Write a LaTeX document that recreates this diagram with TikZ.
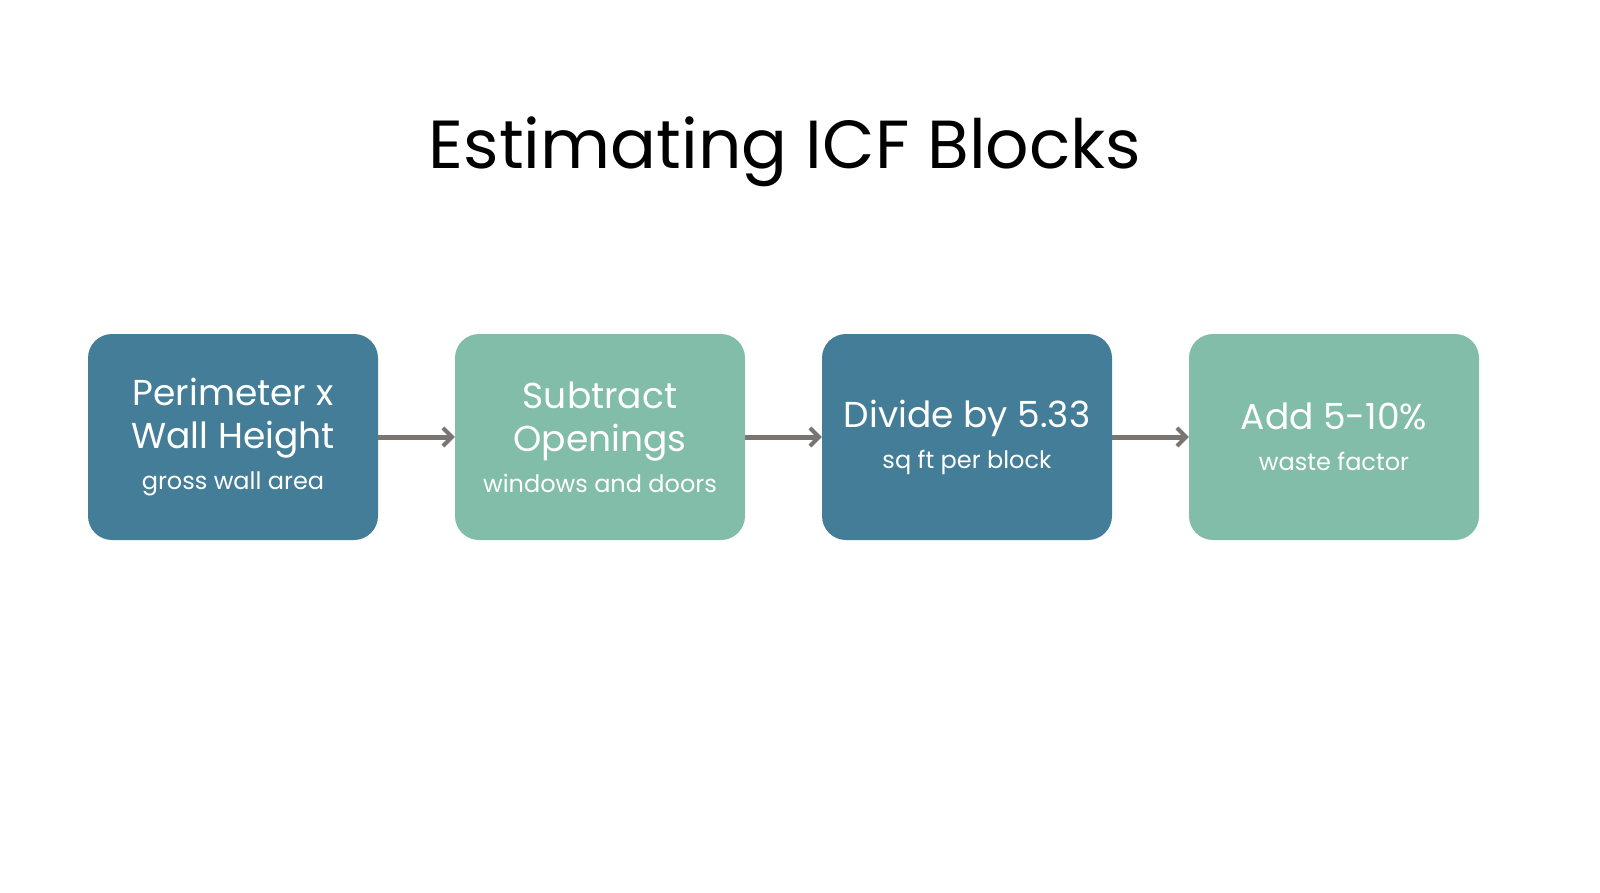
\documentclass[tikz,border=0pt]{standalone}
\usepackage{fontspec}
\setmainfont{Poppins}
\usetikzlibrary{arrows.meta}
\definecolor{dk}{HTML}{447D98}
\definecolor{lt}{HTML}{82BDA9}
\definecolor{ar}{HTML}{7A7571}
\begin{document}
\begin{tikzpicture}[x=1pt,y=-1pt,
 box/.style={rounded corners=24pt,minimum width=290pt,minimum height=206pt,text=white,align=center,inner sep=0pt,font=\fontsize{36}{43}\selectfont},
 arr/.style={draw=ar,line width=5pt,-{Straight Barb[length=9pt,width=18pt,line width=4pt]}}]
\node[font=\fontsize{68}{74}\selectfont] (t) at (785,152) {Estimating ICF Blocks};
\node[box,fill=dk] (a) at (233,437) {Perimeter x\\Wall Height\\[-2pt]{\fontsize{24}{30}\selectfont gross wall area}};
\node[box,fill=lt] (b) at (600,437) {Subtract\\Openings\\[-2pt]{\fontsize{24}{30}\selectfont windows and doors}};
\node[box,fill=dk] (c) at (967,437) {Divide by 5.33\\[-2pt]{\fontsize{24}{30}\selectfont sq ft per block}};
\node[box,fill=lt] (d) at (1334,437) {Add 5-10\%\\[-2pt]{\fontsize{24}{30}\selectfont waste factor}};
\draw[arr] (a.east) -- (b.west);
\draw[arr] (b.east) -- (c.west);
\draw[arr] (c.east) -- (d.west);
\pgfresetboundingbox
\useasboundingbox (0,0) rectangle (1600,893);
\end{tikzpicture}
\end{document}
